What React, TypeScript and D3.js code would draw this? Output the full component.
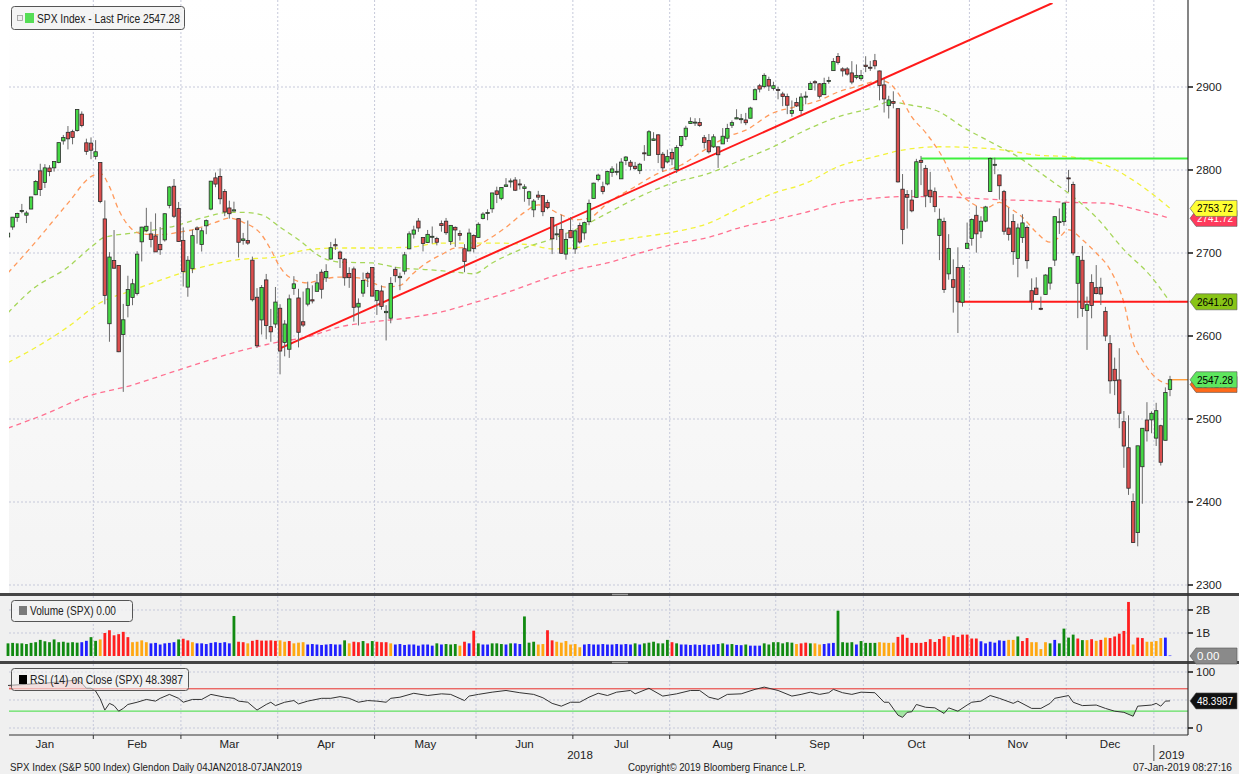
import React from 'react';
import * as d3 from 'd3';

const W = 1239;
const H = 774;

// ---- daily OHLC [open, high, low, close] ----
const jan2018 = [
  [2719.31,2729.29,2719.07,2723.99],[2731.33,2743.45,2727.92,2743.15],[2742.67,2748.51,2737.60,2747.71],
  [2751.15,2759.14,2747.86,2751.29],[2745.55,2750.80,2736.06,2748.23],[2752.97,2767.56,2752.78,2767.56],
  [2770.18,2787.85,2769.64,2786.24],[2798.96,2807.54,2768.64,2776.42],[2784.99,2807.04,2778.38,2802.56],
  [2802.40,2805.83,2792.56,2798.03],[2802.60,2810.33,2798.08,2810.30],[2809.16,2833.03,2808.12,2832.97],
  [2835.05,2842.24,2830.59,2839.13],[2845.42,2852.97,2824.81,2837.54],[2846.24,2848.56,2830.94,2839.25],
  [2847.48,2872.87,2846.18,2872.87],[2867.23,2870.62,2851.48,2853.53],[2832.74,2837.75,2818.27,2822.43],
  [2832.41,2839.26,2813.04,2823.81],
];
const feb2018 = [
  [2816.45,2835.96,2812.70,2821.98],[2808.92,2808.92,2759.97,2762.13],[2741.06,2763.39,2638.17,2648.94],
  [2614.78,2701.04,2593.07,2695.14],[2690.95,2727.67,2681.33,2681.66],[2685.01,2685.27,2580.56,2581.00],
  [2601.78,2638.67,2532.69,2619.55],[2636.75,2672.61,2622.45,2656.00],[2646.27,2668.84,2637.08,2662.94],
  [2651.21,2702.10,2648.87,2698.63],[2713.46,2731.51,2689.82,2731.20],[2727.14,2754.42,2725.11,2732.22],
  [2722.99,2737.60,2706.76,2716.26],[2720.53,2747.75,2701.29,2701.33],[2710.42,2731.26,2697.77,2703.96],
  [2715.80,2747.76,2713.74,2747.30],[2757.37,2780.64,2753.78,2779.60],[2780.45,2789.15,2742.10,2744.28],
  [2753.78,2761.52,2713.54,2713.83],
];
const mar2018 = [
  [2715.22,2730.89,2659.65,2677.67],[2658.89,2696.25,2647.32,2691.25],[2681.06,2728.09,2675.75,2720.94],
  [2730.18,2732.08,2711.26,2728.12],[2710.18,2730.60,2701.74,2726.80],[2732.75,2740.45,2722.65,2738.97],
  [2752.91,2786.57,2751.54,2786.57],[2790.54,2796.98,2779.26,2783.02],[2792.31,2801.90,2758.68,2765.31],
  [2774.06,2777.11,2744.38,2749.48],[2754.27,2763.03,2741.47,2747.33],[2750.57,2761.85,2749.97,2752.01],
  [2741.38,2741.38,2694.59,2712.92],[2715.05,2724.22,2710.05,2716.94],[2714.99,2739.14,2709.79,2711.93],
  [2691.36,2695.68,2641.59,2643.69],[2646.71,2657.67,2585.89,2588.26],[2619.35,2661.36,2601.81,2658.55],
  [2667.57,2674.78,2596.12,2612.62],[2611.30,2632.65,2593.06,2605.00],[2614.41,2659.07,2609.72,2640.87],
];
const apr2018 = [
  [2633.45,2638.30,2553.80,2581.88],[2592.17,2619.14,2575.49,2614.45],[2584.04,2649.86,2573.61,2644.69],
  [2657.36,2672.08,2649.58,2662.84],[2645.82,2656.88,2586.27,2604.47],[2617.18,2653.55,2610.79,2613.16],
  [2638.41,2665.45,2635.78,2656.87],[2643.64,2661.04,2639.25,2642.19],[2653.83,2674.72,2653.83,2663.99],
  [2676.90,2680.26,2645.05,2656.30],[2670.10,2686.49,2665.16,2677.84],[2692.74,2713.34,2692.05,2706.39],
  [2710.11,2717.49,2703.63,2708.64],[2701.16,2702.84,2681.90,2693.13],[2692.56,2693.94,2660.61,2670.14],
  [2675.40,2682.86,2657.99,2670.29],[2680.80,2683.55,2617.32,2634.56],[2634.92,2645.30,2612.67,2639.40],
  [2651.65,2676.48,2647.16,2666.94],[2675.47,2677.35,2659.01,2669.91],[2682.51,2682.87,2648.04,2648.05],
];
const may2018 = [
  [2642.96,2655.27,2625.41,2654.80],[2654.24,2660.87,2631.70,2635.67],[2628.08,2637.14,2594.62,2629.73],
  [2621.45,2670.93,2615.32,2663.42],[2680.34,2683.35,2664.70,2672.63],[2670.26,2676.34,2655.20,2671.92],
  [2678.12,2701.27,2674.14,2697.79],[2705.02,2726.11,2704.54,2723.07],[2722.70,2732.86,2717.45,2727.72],
  [2738.47,2742.10,2725.47,2730.13],[2718.59,2718.59,2701.91,2711.45],[2712.62,2727.76,2712.17,2722.46],
  [2719.71,2731.96,2711.36,2720.13],[2717.35,2719.50,2709.18,2712.97],[2735.39,2739.19,2725.70,2733.01],
  [2738.34,2742.24,2721.88,2724.44],[2713.98,2733.33,2709.54,2733.29],[2730.94,2731.97,2707.38,2727.76],
  [2723.60,2727.36,2714.99,2721.33],[2705.11,2710.67,2676.81,2689.86],[2702.43,2729.34,2702.43,2724.01],
  [2720.98,2722.50,2700.68,2705.27],
];
const jun2018 = [
  [2718.70,2736.93,2718.70,2734.62],[2741.67,2749.16,2740.54,2746.87],[2748.46,2752.61,2739.51,2748.80],
  [2753.25,2772.39,2748.46,2772.35],[2774.84,2779.90,2760.16,2770.37],[2765.84,2779.39,2763.59,2779.03],
  [2780.18,2790.21,2780.17,2782.00],[2785.60,2789.80,2778.78,2786.85],[2787.94,2791.47,2774.65,2775.63],
  [2783.21,2789.06,2776.52,2782.49],[2777.78,2782.81,2761.73,2779.66],[2765.79,2774.99,2757.12,2773.75],
  [2752.01,2765.05,2743.19,2762.59],[2769.73,2774.86,2763.91,2767.32],[2769.28,2769.28,2744.39,2749.76],
  [2760.79,2764.17,2752.68,2754.88],[2742.94,2742.94,2698.67,2717.07],[2722.12,2732.91,2715.60,2723.06],
  [2728.45,2746.09,2699.38,2699.63],[2698.69,2724.34,2691.99,2716.31],[2727.13,2743.26,2718.03,2718.37],
];
const jul2018 = [
  [2704.95,2727.26,2698.95,2726.71],[2733.27,2736.58,2711.16,2713.22],[2724.19,2737.83,2716.02,2736.61],
  [2737.68,2764.41,2733.52,2759.82],[2765.79,2784.65,2765.79,2784.17],[2788.56,2795.58,2786.24,2793.84],
  [2779.82,2785.91,2770.77,2774.02],[2783.14,2799.22,2781.53,2798.29],[2796.93,2804.53,2791.69,2801.31],
  [2798.43,2807.86,2793.64,2798.43],[2789.34,2814.19,2789.24,2809.55],[2811.35,2816.76,2805.89,2815.62],
  [2809.37,2812.05,2799.77,2804.49],[2804.55,2809.70,2800.01,2801.83],[2799.17,2808.61,2795.14,2806.98],
  [2820.68,2829.99,2811.12,2820.40],[2817.73,2848.03,2817.73,2846.07],[2835.49,2845.57,2835.26,2837.44],
  [2842.35,2843.17,2808.34,2818.82],[2819.00,2821.74,2798.11,2802.60],[2809.73,2824.46,2808.06,2816.29],
];
const aug2018 = [
  [2821.17,2825.83,2805.85,2813.36],[2800.48,2829.91,2796.34,2827.22],[2829.62,2840.38,2827.37,2840.35],
  [2840.29,2853.29,2835.98,2850.40],[2855.92,2863.43,2855.92,2858.45],[2856.79,2862.44,2853.09,2857.70],
  [2857.19,2862.48,2851.98,2853.58],[2838.90,2842.20,2825.81,2833.28],[2835.46,2843.40,2819.88,2821.93],
  [2827.88,2843.11,2826.58,2839.96],[2827.95,2827.95,2802.49,2818.37],[2831.44,2850.49,2831.44,2840.69],
  [2838.32,2855.63,2833.73,2850.13],[2853.93,2859.76,2850.62,2857.05],[2861.51,2873.23,2861.32,2862.96],
  [2860.99,2867.54,2856.05,2861.82],[2860.29,2868.78,2854.03,2856.98],[2862.35,2876.16,2862.35,2874.69],
  [2884.69,2898.25,2884.69,2896.74],[2901.45,2903.77,2893.50,2897.52],[2900.62,2916.50,2898.40,2914.04],
  [2908.94,2912.46,2895.22,2901.13],[2898.37,2906.32,2895.77,2901.52],
];
const sep2018 = [
  [2896.96,2900.18,2885.13,2896.72],[2891.59,2894.21,2876.92,2888.60],[2888.64,2892.05,2867.29,2878.05],
  [2868.26,2883.81,2864.12,2871.68],[2881.39,2886.93,2875.94,2877.13],[2871.57,2892.52,2866.78,2887.89],
  [2888.29,2894.65,2879.20,2888.92],[2896.85,2906.76,2896.39,2904.18],[2906.38,2908.30,2895.77,2904.98],
  [2903.83,2904.65,2886.16,2888.80],[2890.74,2911.17,2890.43,2904.31],[2906.60,2912.36,2903.82,2907.95],
  [2919.73,2934.80,2919.73,2930.75],[2936.76,2940.91,2927.11,2929.67],[2921.83,2923.79,2912.63,2919.37],
  [2921.75,2923.95,2913.70,2915.56],[2916.98,2931.15,2903.28,2905.97],[2911.65,2927.22,2909.27,2914.00],
  [2910.03,2920.53,2907.50,2913.98],
];
const oct2018 = [
  [2926.29,2937.06,2917.91,2924.59],[2923.80,2931.42,2919.37,2923.43],[2931.69,2939.86,2921.36,2925.51],
  [2919.35,2919.78,2883.92,2901.61],[2902.54,2909.64,2869.29,2885.57],[2877.53,2889.45,2862.08,2884.43],
  [2882.51,2894.83,2874.27,2880.34],[2873.90,2874.02,2784.86,2785.68],[2776.87,2795.14,2710.51,2728.37],
  [2770.54,2775.77,2729.44,2767.13],[2763.83,2775.99,2749.03,2750.79],[2767.05,2813.46,2766.91,2809.92],
  [2811.67,2816.94,2781.81,2809.21],[2802.00,2806.04,2755.18,2768.78],[2775.66,2797.77,2760.27,2767.78],
  [2773.94,2778.94,2749.22,2755.88],[2721.03,2753.59,2691.43,2740.69],[2737.87,2742.59,2651.89,2656.10],
  [2674.88,2722.70,2667.84,2705.57],[2667.86,2692.38,2628.16,2658.69],[2682.65,2706.85,2603.54,2641.25],
  [2640.68,2685.43,2635.34,2682.63],[2705.60,2736.69,2705.60,2711.74],
];
const nov2018 = [
  [2717.58,2741.67,2708.85,2740.37],[2745.45,2756.55,2700.44,2723.06],[2726.37,2744.27,2717.94,2738.31],
  [2738.40,2756.82,2737.08,2755.45],[2774.13,2815.15,2774.13,2813.89],[2806.38,2814.75,2794.99,2806.83],
  [2794.10,2794.10,2764.24,2781.01],[2773.93,2775.99,2722.00,2726.22],[2730.05,2754.60,2714.98,2722.18],
  [2737.90,2746.80,2685.75,2701.58],[2693.52,2735.38,2670.75,2730.20],[2718.54,2746.75,2712.16,2736.27],
  [2730.74,2733.16,2681.09,2690.73],[2654.60,2669.44,2631.52,2641.89],[2657.74,2670.73,2649.82,2649.93],
  [2633.36,2647.55,2631.09,2632.56],[2649.97,2674.35,2649.97,2673.45],[2663.75,2682.53,2655.89,2682.17],
  [2691.45,2744.00,2684.38,2743.79],[2736.97,2753.75,2722.94,2737.80],[2737.76,2760.88,2732.76,2760.17],
];
const dec2018 = [
  [2790.50,2800.18,2773.38,2790.37],[2782.43,2785.93,2697.18,2700.06],[2663.51,2696.15,2621.53,2695.95],
  [2691.26,2708.54,2623.14,2633.08],[2630.86,2647.51,2583.23,2637.72],[2664.44,2674.35,2621.30,2636.78],
  [2658.23,2685.44,2650.26,2651.07],[2658.70,2670.19,2637.27,2650.54],[2629.68,2635.07,2593.84,2599.95],
  [2590.75,2601.13,2530.54,2545.94],[2559.90,2573.99,2528.71,2546.16],[2547.05,2585.29,2488.96,2506.96],
  [2496.77,2509.63,2441.18,2467.42],[2465.38,2504.41,2408.55,2416.62],[2400.56,2410.34,2351.10,2351.10],
  [2363.12,2467.76,2346.58,2467.70],[2442.50,2489.10,2397.94,2488.83],[2498.77,2520.27,2472.89,2485.74],
  [2498.94,2509.24,2482.82,2506.85],
];
const jan2019 = [
  [2476.96,2519.49,2467.47,2510.03],[2491.92,2493.14,2443.96,2447.89],[2474.33,2538.07,2474.33,2531.94],
  [2535.61,2552.00,2527.50,2547.28],
];

// ---- volume (billions) and bar colour codes per month ----
const volJan = [0.55,0.57,0.55,0.55,0.52,0.57,0.6,0.7,0.64,0.6,0.72,0.6,0.62,0.58,0.6,0.58,0.6,0.66,0.82];
const colJan = 'GGGGGGGGGGGGGGGGBBG';
const volFeb = [0.66,0.72,1.0,1.12,0.9,0.95,1.05,0.82,0.6,0.62,0.68,0.6,0.55,0.57,0.5,0.55,0.57,0.6,0.72];
const colFeb = 'GORRRRRROOOOBBBBBBG';
const volMar = [0.75,0.68,0.6,0.55,0.55,0.52,0.57,0.6,0.57,0.6,0.55,1.74,0.62,0.6,0.55,0.66,0.7,0.67,0.67,0.68,0.66];
const colMar = 'RROBBBBBBBBGRRORRRRRR';
const volApr = [0.68,0.62,0.65,0.55,0.58,0.6,0.5,0.52,0.5,0.48,0.5,0.52,0.5,0.5,0.68,0.55,0.62,0.6,0.65,0.55,0.65];
const colApr = 'OOROOOBBBBBBBBGORRGRG';
const volMay = [0.62,0.6,0.6,0.55,0.5,0.52,0.48,0.5,0.5,0.45,0.5,0.5,0.45,0.55,0.5,0.52,0.5,0.52,0.45,0.62,0.55,1.1];
const colMay = 'RRROBBBBBBBBBGBGGGORBR';
const volJun = [0.55,0.5,0.5,0.55,0.55,0.52,0.5,0.55,0.55,0.52,1.72,0.58,0.62,0.5,0.52,1.12,0.68,0.62,0.58,0.65,0.5];
const colJun = 'GBBGGGBGBBGGGOORROOOO';
const volJul = [0.52,0.38,0.5,0.52,0.5,0.5,0.52,0.5,0.5,0.52,0.5,0.52,0.5,0.55,0.5,0.55,0.58,0.62,0.55,0.55,0.7];
const colJul = 'OOBBBBBBBBBBBGBGGGGGG';
const volAug = [0.6,0.55,0.5,0.5,0.48,0.5,0.48,0.5,0.48,0.5,0.52,0.55,0.5,0.52,0.48,0.47,0.5,0.45,0.45,0.45,0.55,0.5,0.6];
const colAug = 'RGBBBBBBBBBGBGBBGBBBGGG';
const volSep = [0.6,0.55,0.6,0.58,0.52,0.55,0.58,0.55,0.55,0.5,0.52,0.55,0.57,1.97,0.6,0.58,0.6,0.5,0.65];
const colSep = 'GGGGORRGOOBBBGGGGBG';
const volOct = [0.57,0.57,0.57,0.6,0.58,0.57,0.58,0.83,0.93,0.79,0.57,0.57,0.57,0.61,0.73,0.61,0.74,0.86,0.83,0.9,0.83,0.93,0.93];
const colOct = 'GGGOOOORRRRRRRRRRRORRRR';
const volNov = [0.76,0.76,0.64,0.55,0.62,0.58,0.68,0.66,0.7,0.7,0.85,0.65,0.78,0.6,0.6,0.3,0.6,0.55,0.7,0.55,1.19];
const colNov = 'RRBBBBBBOOGRROOOOGBGG';
const volDec = [0.8,0.93,0.76,0.69,0.69,0.73,0.66,0.7,0.8,0.78,0.85,0.97,1.09,2.35,0.5,0.8,0.78,0.62,0.62];
const colDec = 'GGRGORORORRRRRORROO';
const volJan19 = [0.65,0.78,0.8,0.02];
const colJan19 = 'OOBB';

// ---- moving averages: [trading-day index], [price] ----
const ma20Days = [0,5,13,18,20,22,24,27,29,33,37,40,45,48,51,55,57,59,61,65,68,72,76,79,82,85,88,91,94,97,101,104,108,112,115,120,123,126,130,136,141,146,151,156,160,166,170,176,180,185,189,191,193,196,199,203,206,209,212,215,217,220,223,226,228,230,233,236,239,242,244,246,248,251,252];
const ma20Vals = [2676,2707,2760,2792,2796,2780,2752,2728,2723,2722,2725,2728,2737,2742,2737,2722,2704,2683,2671,2664,2668,2671,2670,2664,2659,2661,2676,2689,2698,2706,2707,2716,2731,2749,2758,2746,2740,2742,2760,2780,2796,2806,2824,2840,2848,2869,2875,2884,2894,2902,2908,2905,2893,2864,2845,2812,2776,2760,2754,2761,2755,2743,2725,2713,2719,2728,2716,2700,2680,2640,2592,2571,2555,2543,2542];
const ma50Days = [0,5,13,18,21,27,35,42,48,51,55,59,63,68,72,79,85,91,97,101,105,112,118,123,130,137,144,152,159,166,173,180,188,191,196,202,207,213,219,225,230,236,242,248,252];
const ma50Vals = [2628,2655,2683,2707,2719,2724,2731,2742,2749,2749,2746,2731,2716,2695,2689,2688,2682,2680,2677,2675,2688,2706,2717,2728,2748,2768,2784,2796,2812,2828,2848,2864,2876,2882,2878,2870,2852,2834,2816,2792,2772,2743,2704,2671,2641];
const ma100Days = [0,5,13,20,27,35,42,50,58,65,72,79,87,94,100,105,113,118,124,130,137,144,152,159,166,173,180,188,194,202,209,216,223,230,238,245,252];
const ma100Vals = [2568,2583,2611,2640,2655,2671,2683,2692,2695,2704,2706,2706,2707,2712,2712,2712,2710,2705,2707,2713,2719,2725,2736,2755,2772,2784,2804,2816,2824,2828,2827,2824,2818,2816,2806,2784,2754];
const ma200Days = [0,9,16,27,37,49,58,65,72,79,87,94,101,108,115,123,130,137,144,152,159,166,173,180,188,194,202,209,216,223,230,238,245,252];
const ma200Vals = [2489,2508,2525,2541,2559,2580,2592,2599,2611,2617,2622,2629,2640,2652,2666,2680,2688,2700,2710,2719,2731,2740,2749,2760,2766,2768,2768,2766,2764,2763,2761,2760,2752,2742];

// ---- RSI(14) ----
const rsiDays = [0,4,8,12,15,16,17,18,19,20,21,22,23,24,25,26,28,30,32,33,35,37,38,40,42,44,47,49,50,52,54,56,57,58,60,62,63,65,68,70,72,74,76,78,80,82,83,85,88,91,94,96,99,100,102,105,108,111,114,116,118,120,122,124,126,128,130,132,135,136,139,142,145,148,150,152,154,156,159,162,164,167,170,172,174,176,178,179,181,183,185,188,190,191,193,194,195,196,197,199,201,203,204,206,208,209,211,213,215,218,219,222,224,226,227,230,231,233,236,238,240,242,244,245,248,249,250,251,252];
const rsiVals = [76,78,80,83,86,80,71,71,66,52,32,44,40,30,35,42,46,51,48,53,60,53,46,51,51,60,55,53,48,46,32,42,46,40,46,49,43,48,53,53,56,53,46,49,48,46,53,55,62,58,61,60,49,57,60,64,67,63,60,54,44,39,46,46,55,62,58,64,67,61,71,57,61,67,67,55,51,60,61,69,73,67,57,60,64,60,63,69,63,60,64,63,46,46,23,19,28,29,42,37,36,26,36,30,41,46,48,58,53,44,48,35,35,44,53,58,46,40,41,35,30,28,21,39,41,44,39,48,48.4];

// ---- axis labels ----
const monthNames = ['Jan','Feb','Mar','Apr','May','Jun','Jul','Aug','Sep','Oct','Nov','Dec'];
const monthStarts = [0,19,38,59,80,102,123,144,167,186,209,230,249];
const priceTicks = [2300,2400,2500,2600,2700,2800,2900];
const volTicks = [1,2];
const volTickLabels = ['1B','2B'];
const rsiTicks = [0,100];

// reference lines
const trendStart = [59, 2585];
const trendMid = [189, 2908];
const resistance = { day: 198, price: 2814 };
const support = { day: 206, price: 2641.2 };

const lastPrice = 2547.28;
const tags = [
  { value: 2741.72, text: '2741.72', bg: '#ff3a5c', fg: '#ffffff' },
  { value: 2753.72, text: '2753.72', bg: '#ffff33', fg: '#000000' },
  { value: 2641.20, text: '2641.20', bg: '#88c416', fg: '#000000' },
  { value: 2541.66, text: '2541.66', bg: '#ff6a1a', fg: '#000000' },
  { value: 2547.28, text: '2547.28', bg: '#5ee65e', fg: '#000000' },
];

const FONT = 'Liberation Sans, Arial, sans-serif';
const colorMap: Record<string, string> = { G: '#118a11', R: '#ff1f1f', O: '#ffa812', B: '#1f1fff' };

function Tag({ x, y, text, bg, fg, w = 47, tl }: any) {
  const h = 16;
  const pts = [[x, y], [x + 6, y - h / 2], [x + w, y - h / 2], [x + w, y + h / 2], [x + 6, y + h / 2]];
  return (
    <g>
      <polygon points={pts.map(p => p.join(',')).join(' ')} fill={bg} stroke="#555" strokeWidth={0.6} />
      <text x={x + 7} y={y + 4} fontSize={11.5} fill={fg} fontFamily={FONT}
        textLength={tl} lengthAdjust="spacingAndGlyphs">{text}</text>
    </g>
  );
}

export default function App() {
  const ohlc = [...jan2018, ...feb2018, ...mar2018, ...apr2018, ...may2018, ...jun2018, ...jul2018,
    ...aug2018, ...sep2018, ...oct2018, ...nov2018, ...dec2018, ...jan2019];
  const vols = [...volJan, ...volFeb, ...volMar, ...volApr, ...volMay, ...volJun, ...volJul, ...volAug,
    ...volSep, ...volOct, ...volNov, ...volDec, ...volJan19];
  const cols = (colJan + colFeb + colMar + colApr + colMay + colJun + colJul + colAug + colSep + colOct +
    colNov + colDec + colJan19).split('');

  const axisX = 1188;
  const x = d3.scaleLinear().domain([0, 252]).range([8, 1170]);
  const yP = d3.scaleLinear().domain([2300, 2900]).range([585, 87]);
  const yV = d3.scaleLinear().domain([0, 2]).range([656, 610]);
  const yR = d3.scaleLinear().domain([0, 100]).range([728, 672]);

  const mainTop = 0, mainBot = 593;
  const volTop = 597, volBot = 661;
  const rsiTop = 664, rsiBot = 735;

  const zip = (a: number[], b: number[]) => a.slice(0, Math.min(a.length, b.length)).map((d, i) => [d, b[i]]);
  const maLine = d3.line<number[]>().x(d => x(d[0])).y(d => yP(d[1])).curve(d3.curveMonotoneX);
  const mas = [
    { pts: zip(ma200Days, ma200Vals), color: '#ff7090' },
    { pts: zip(ma100Days, ma100Vals), color: '#f2f23a' },
    { pts: zip(ma50Days, ma50Vals), color: '#a6d65a' },
    { pts: zip(ma20Days, ma20Vals), color: '#ff9a5c' },
  ];

  const rsiPts = zip(rsiDays, rsiVals);
  const rsiLine = d3.line<number[]>().x(d => x(d[0])).y(d => yR(d[1]));
  const rsiArea = (lvl: number) => d3.area<number[]>().x(d => x(d[0])).y0(yR(lvl)).y1(d => yR(d[1]));

  const bounds = monthStarts.slice(1).map(s => x(s - 0.5));
  const monthEdges = [x(-2.5), ...bounds];
  const monthCenters = monthNames.map((_, i) => (monthEdges[i] + monthEdges[i + 1]) / 2);

  // trend line extended to the top edge
  const slope = (trendMid[1] - trendStart[1]) / (trendMid[0] - trendStart[0]);
  const topPrice = yP.invert(mainTop + 3);
  const trendEnd = [trendStart[0] + (topPrice - trendStart[1]) / slope, topPrice];

  const bodyW = 3.4;
  const dotted = { stroke: '#c6c9da', strokeWidth: 1, strokeDasharray: '2,2' };

  return (
    <svg width={W} height={H} style={{ display: 'block', position: 'absolute', left: 0, top: 0 }} fontFamily={FONT}>
      <defs>
        <linearGradient id="mainBg" x1="0" y1="0" x2="0" y2="1">
          <stop offset="0" stopColor="#ffffff" />
          <stop offset="1" stopColor="#f4f4f4" />
        </linearGradient>
        <clipPath id="mainClip"><rect x={9} y={mainTop + 3} width={axisX - 9} height={mainBot - mainTop - 3} /></clipPath>
        <clipPath id="above70"><rect x={9} y={rsiTop} width={axisX - 9} height={yR(70) - rsiTop} /></clipPath>
        <clipPath id="below30"><rect x={9} y={yR(30)} width={axisX - 9} height={rsiBot - yR(30)} /></clipPath>
      </defs>

      {/* backgrounds */}
      <rect x={0} y={0} width={W} height={H} fill="#f0f0f0" />
      <rect x={0} y={0} width={W} height={mainBot} fill="#ffffff" />
      <rect x={9} y={mainTop} width={axisX - 9} height={mainBot - mainTop} fill="url(#mainBg)" />
      <rect x={9} y={volTop} width={axisX - 9} height={volBot - volTop} fill="#f0f0f0" />
      <rect x={9} y={rsiTop} width={axisX - 9} height={rsiBot - rsiTop} fill="#f0f0f0" />

      {/* grid */}
      {bounds.map((bx, i) => (
        <line key={'vg' + i} x1={bx} x2={bx} y1={0} y2={rsiBot} {...dotted} />
      ))}
      {priceTicks.map(p => (
        <line key={'hg' + p} x1={9} x2={axisX} y1={yP(p)} y2={yP(p)} {...dotted} />
      ))}
      {volTicks.map(v => (
        <line key={'vgv' + v} x1={9} x2={axisX} y1={yV(v)} y2={yV(v)} {...dotted} />
      ))}
      {[0, 50, 100].map(v => (
        <line key={'rg' + v} x1={9} x2={axisX} y1={yR(v)} y2={yR(v)} {...dotted} />
      ))}

      {/* main panel */}
      <g clipPath="url(#mainClip)">
        {mas.map((m, i) => (
          <path key={'ma' + i} d={maLine(m.pts) || ''} fill="none" stroke={m.color} strokeWidth={1.3} strokeDasharray="5,4" />
        ))}
        <line x1={x(trendStart[0])} y1={yP(trendStart[1])} x2={x(trendEnd[0])} y2={yP(trendEnd[1])} stroke="#ff1a1a" strokeWidth={2} />
        <line x1={x(resistance.day)} x2={axisX} y1={yP(resistance.price)} y2={yP(resistance.price)} stroke="#3ef03e" strokeWidth={2} />
        <line x1={x(support.day)} x2={axisX} y1={yP(support.price)} y2={yP(support.price)} stroke="#ff1a1a" strokeWidth={2} />
        <line x1={x(252)} x2={axisX} y1={yP(lastPrice)} y2={yP(lastPrice)} stroke="#ff8c1a" strokeWidth={1.2} />
        {ohlc.map((d, i) => {
          const [o, h, l, c] = d;
          const up = c >= o;
          const cx = x(i);
          const top = yP(Math.max(o, c));
          const bh = Math.max(1, yP(Math.min(o, c)) - top);
          return (
            <g key={'c' + i}>
              <line x1={cx} x2={cx} y1={yP(h)} y2={yP(l)} stroke="#6a6a6a" strokeWidth={1} />
              <rect x={cx - bodyW / 2} y={top} width={bodyW} height={bh}
                fill={up ? '#45d845' : '#dc4e4e'} stroke="#2b2b2b" strokeWidth={0.8} />
            </g>
          );
        })}
      </g>

      {/* volume panel */}
      {vols.map((v, i) => (
        <rect key={'v' + i} x={x(i) - 1.4} y={yV(v)} width={2.8} height={Math.max(0.5, yV(0) - yV(v))}
          fill={colorMap[cols[i]] || '#1f1fff'} />
      ))}

      {/* RSI panel */}
      <path d={rsiArea(70)(rsiPts) || ''} fill="#ff6b6b" fillOpacity={0.3} clipPath="url(#above70)" />
      <path d={rsiArea(30)(rsiPts) || ''} fill="#4cd44c" fillOpacity={0.45} clipPath="url(#below30)" />
      <line x1={9} x2={axisX} y1={yR(70)} y2={yR(70)} stroke="#e8322e" strokeWidth={1} />
      <line x1={9} x2={axisX} y1={yR(30)} y2={yR(30)} stroke="#62e062" strokeWidth={1.2} />
      <path d={rsiLine(rsiPts) || ''} fill="none" stroke="#333" strokeWidth={1} />

      {/* panel separators */}
      <rect x={0} y={mainBot} width={W} height={3} fill="#454545" />
      <rect x={612} y={mainBot + 0.8} width={16} height={1.4} fill="#9a9a9a" />
      <rect x={0} y={volBot} width={W} height={3} fill="#454545" />
      <rect x={612} y={volBot + 0.8} width={16} height={1.4} fill="#9a9a9a" />

      {/* right axis */}
      <line x1={axisX} x2={axisX} y1={0} y2={rsiBot} stroke="#333" strokeWidth={1.2} />
      {priceTicks.map(p => (
        <g key={'pt' + p}>
          <line x1={axisX} x2={axisX + 5} y1={yP(p)} y2={yP(p)} stroke="#111" strokeWidth={1.5} />
          <text x={axisX + 8} y={yP(p) + 4} fontSize={11.5} fill="#222">{p}</text>
        </g>
      ))}
      {volTicks.map((v, i) => (
        <g key={'vt' + v}>
          <line x1={axisX} x2={axisX + 5} y1={yV(v)} y2={yV(v)} stroke="#111" strokeWidth={1.5} />
          <text x={axisX + 8} y={yV(v) + 4} fontSize={11.5} fill="#222">{volTickLabels[i]}</text>
        </g>
      ))}
      {rsiTicks.map(v => (
        <g key={'rt' + v}>
          <line x1={axisX} x2={axisX + 5} y1={yR(v)} y2={yR(v)} stroke="#111" strokeWidth={1.5} />
          <text x={axisX + 8} y={yR(v) + 4} fontSize={11.5} fill="#222">{v}</text>
        </g>
      ))}
      {tags.map((t, i) => (
        <Tag key={'tag' + i} x={axisX + 2} y={yP(t.value)} text={t.text} bg={t.bg} fg={t.fg} tl={36} />
      ))}
      <Tag x={axisX + 2} y={yV(0)} text="0.00" bg="#8a8a8a" fg="#ffffff" />
      <Tag x={axisX + 2} y={yR(48.3987)} text="48.3987" bg="#111111" fg="#ffffff" tl={36} />

      {/* bottom axis */}
      <line x1={9} x2={axisX} y1={rsiBot} y2={rsiBot} stroke="#333" strokeWidth={1.2} />
      {bounds.slice(0, 11).map((bx, i) => (
        <line key={'xt' + i} x1={bx} x2={bx} y1={rsiBot} y2={rsiBot + 4} stroke="#333" strokeWidth={1} />
      ))}
      {monthNames.map((m, i) => (
        <text key={'mn' + i} x={monthCenters[i]} y={748} fontSize={11.5} fill="#222" textAnchor="middle">{m}</text>
      ))}
      <text x={580} y={759} fontSize={11.5} fill="#222" textAnchor="middle">2018</text>
      <line x1={bounds[11]} x2={bounds[11]} y1={745} y2={761} stroke="#555" strokeWidth={1} />
      <text x={bounds[11] + 5} y={759} fontSize={11.5} fill="#222">2019</text>

      {/* footer */}
      <text x={10} y={771} fontSize={10.5} fill="#222" textLength={292} lengthAdjust="spacingAndGlyphs">SPX Index (S&amp;P 500 Index) Glendon  Daily 04JAN2018-07JAN2019</text>
      <text x={628} y={771} fontSize={10.5} fill="#222" textLength={178} lengthAdjust="spacingAndGlyphs">Copyright© 2019 Bloomberg Finance L.P.</text>
      <text x={1133} y={771} fontSize={10.5} fill="#222" textLength={99} lengthAdjust="spacingAndGlyphs">07-Jan-2019 08:27:16</text>

      {/* legends */}
      <g>
        <rect x={11.5} y={6.5} width={173} height={23} rx={3} fill="#f2f2f2" fillOpacity={0.85} stroke="#555" />
        <rect x={17.5} y={15.5} width={5} height={5} fill="#eee" stroke="#999" strokeWidth={0.8} />
        <rect x={25} y={13} width={9} height={10} fill="#55dd55" />
        <text x={37} y={22.5} fontSize={12} fill="#222" textLength={143} lengthAdjust="spacingAndGlyphs">SPX Index - Last Price 2547.28</text>
      </g>
      <g>
        <rect x={11.5} y={600.5} width={121} height={21} rx={3} fill="#f2f2f2" fillOpacity={0.8} stroke="#555" />
        <rect x={19} y={606} width={8} height={9} fill="#7a7a7a" />
        <text x={30} y={615} fontSize={12} fill="#222" textLength={86} lengthAdjust="spacingAndGlyphs">Volume (SPX) 0.00</text>
      </g>
      <g>
        <rect x={11.5} y={668.5} width={177} height={22} rx={3} fill="#f2f2f2" fillOpacity={0.55} stroke="#555" />
        <rect x={19} y={675} width={8} height={9} fill="#000" />
        <text x={30} y={684} fontSize={12} fill="#222" textLength={153} lengthAdjust="spacingAndGlyphs">RSI (14)  on Close (SPX) 48.3987</text>
      </g>
    </svg>
  );
}
